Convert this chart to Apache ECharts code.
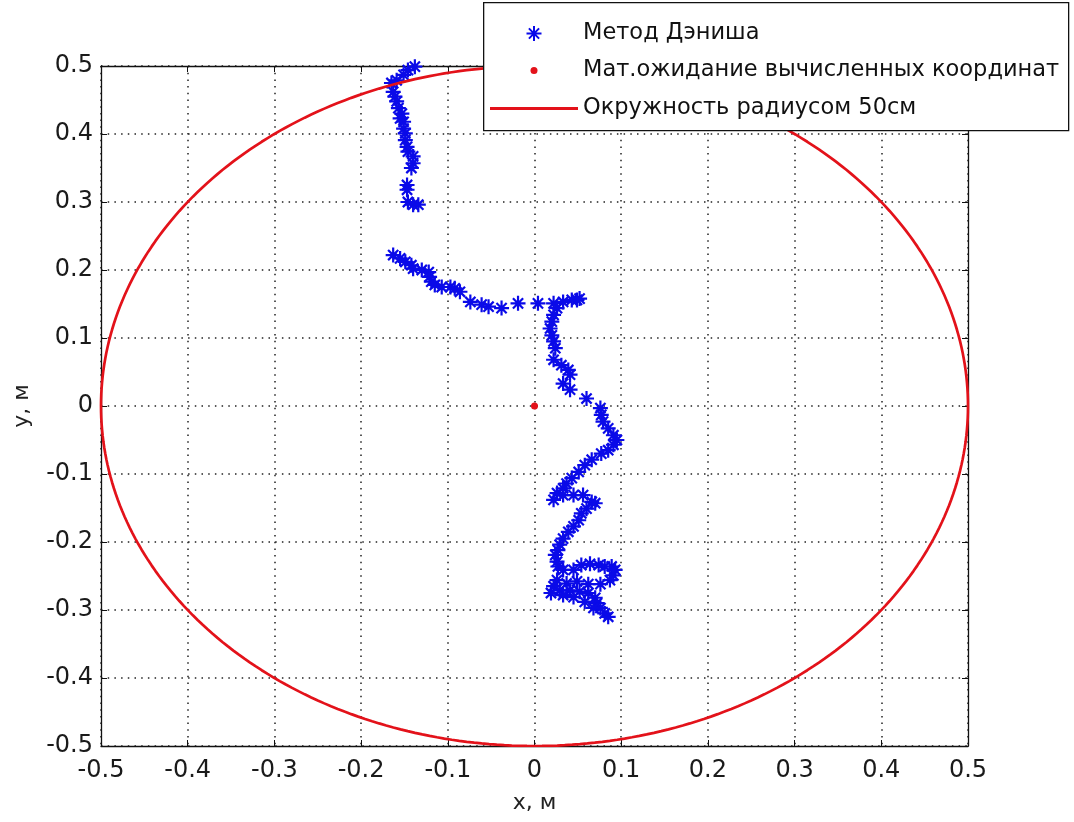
<!DOCTYPE html>
<html>
<head>
<meta charset="utf-8">
<script src="https://cdn.jsdelivr.net/npm/echarts@6/dist/echarts.min.js"></script>
<style>
  html, body { margin: 0; padding: 0; background: #fff; }
  #chart { width: 1074px; height: 822px; }
</style>
</head>
<body>
<div id="chart"></div>
<script>
// Positions estimated by Dennis's method (metres)
const dennisX = [
  -0.128, -0.138, -0.146, -0.151, -0.159, -0.165, -0.163, -0.161, -0.159, -0.157,
  -0.153, -0.155, -0.151, -0.151, -0.149, -0.149, -0.147, -0.146, -0.140, -0.140,
  -0.142, -0.147, -0.147, -0.146, -0.140, -0.134,
  -0.163, -0.155, -0.149, -0.142, -0.140, -0.130, -0.122, -0.121, -0.119, -0.115,
  -0.107, -0.097, -0.092, -0.086, -0.074, -0.061, -0.053, -0.038, -0.019, 0.004,
  0.022, 0.033, 0.043, 0.049, 0.052,
  0.026, 0.022, 0.020, 0.018, 0.020, 0.022, 0.024, 0.022, 0.031, 0.039,
  0.041, 0.033, 0.041, 0.060, 0.076, 0.077, 0.079, 0.085, 0.091, 0.095,
  0.091, 0.085, 0.077, 0.066, 0.058, 0.051, 0.043, 0.037,
  0.033, 0.026, 0.022, 0.033, 0.045, 0.056, 0.066, 0.070, 0.060, 0.054,
  0.051, 0.045, 0.039, 0.033, 0.029, 0.027, 0.024, 0.026, 0.027, 0.033,
  0.045, 0.054, 0.064, 0.074, 0.081, 0.089, 0.093, 0.091, 0.087, 0.076,
  0.062, 0.049, 0.037, 0.026, 0.022, 0.019, 0.029, 0.041, 0.052, 0.062,
  0.070, 0.072, 0.076, 0.081, 0.085, 0.068, 0.058, 0.045, 0.033
];
const dennisY = [
  0.504, 0.499, 0.494, 0.487, 0.479, 0.475, 0.462, 0.455, 0.448, 0.438,
  0.430, 0.423, 0.418, 0.408, 0.401, 0.391, 0.381, 0.374, 0.367, 0.357,
  0.350, 0.325, 0.318, 0.300, 0.296, 0.296,
  0.222, 0.217, 0.212, 0.207, 0.202, 0.200, 0.197, 0.190, 0.183, 0.178,
  0.175, 0.175, 0.173, 0.168, 0.153, 0.149, 0.146, 0.144, 0.151, 0.151,
  0.151, 0.153, 0.156, 0.156, 0.158,
  0.144, 0.134, 0.124, 0.114, 0.104, 0.095, 0.085, 0.068, 0.060, 0.053,
  0.046, 0.033, 0.024, 0.011, -0.003, -0.013, -0.023, -0.033, -0.043, -0.050,
  -0.057, -0.065, -0.070, -0.079, -0.087, -0.097, -0.106, -0.114,
  -0.121, -0.128, -0.138, -0.131, -0.131, -0.131, -0.141, -0.143, -0.151, -0.158,
  -0.168, -0.177, -0.185, -0.195, -0.204, -0.212, -0.219, -0.229, -0.236, -0.241,
  -0.241, -0.234, -0.232, -0.234, -0.236, -0.236, -0.241, -0.249, -0.256, -0.262,
  -0.262, -0.258, -0.261, -0.256, -0.265, -0.275, -0.271, -0.271, -0.273, -0.275,
  -0.282, -0.290, -0.297, -0.305, -0.310, -0.297, -0.288, -0.281, -0.278
];

// Expected value of the computed coordinates
const meanX = [0];
const meanY = [0];

// Reference circle
const circleCenter = [0, 0];
const circleRadius = 0.5;

const tickValues = [-0.5, -0.4, -0.3, -0.2, -0.1, 0, 0.1, 0.2, 0.3, 0.4, 0.5];
const tickLabels = ['-0.5', '-0.4', '-0.3', '-0.2', '-0.1', '0', '0.1', '0.2', '0.3', '0.4', '0.5'];

const seriesNames = ['Метод Дэниша', 'Мат.ожидание вычисленных координат', 'Окружность радиусом 50см'];
const axisNames = ['x, м', 'y, м'];

const BLUE = '#0a0ae8';
const RED = '#e3121a';
const FONT = 'DejaVu Sans';

function tickFormatter(v) {
  const i = Math.round((v - tickValues[0]) * 10);
  return tickLabels[i] !== undefined ? tickLabels[i] : '';
}

const circlePts = [];
for (let a = 0; a <= 360; a += 1) {
  const t = a * Math.PI / 180;
  circlePts.push([circleCenter[0] + circleRadius * Math.cos(t), circleCenter[1] + circleRadius * Math.sin(t)]);
}

const asterisk = 'path://M0,5L10,5M5,0L5,10M1.6,1.6L8.4,8.4M8.4,1.6L1.6,8.4';

function mainAxis(pos, name, gap, margin) {
  return {
    type: 'value', min: -0.5, max: 0.5, interval: 0.1, position: pos,
    name: name, nameLocation: 'middle', nameGap: gap,
    nameTextStyle: { fontFamily: FONT, fontSize: 22, color: '#222' },
    axisLine: { show: true, onZero: false, lineStyle: { color: '#111', width: 1.3 } },
    axisTick: { show: true, inside: true, length: 6, lineStyle: { color: '#111' } },
    axisLabel: { show: true, formatter: tickFormatter, fontFamily: FONT, fontSize: 24, color: '#1a1a1a', margin: margin },
    splitLine: { show: true, lineStyle: { color: '#222', width: 1.5, type: [1.5, 5.2] } }
  };
}
function boxAxis(pos) {
  return {
    type: 'value', min: -0.5, max: 0.5, interval: 0.1, position: pos,
    axisLine: { show: true, onZero: false, lineStyle: { color: '#111', width: 1.3 } },
    axisTick: { show: true, inside: true, length: 6, lineStyle: { color: '#111' } },
    axisLabel: { show: false },
    splitLine: { show: false }
  };
}

// Each legend row sits in its own component; the item box is laid out from the
// icon's drawn bounds, so narrow icons get their left edge moved to stay centred
// in an 88px slot.
const LEGEND_SLOT = 88;
const legendText = { fontFamily: FONT, fontSize: 22.5, color: '#111' };
function legendRow(item, top, h, iconSpan) {
  return {
    data: [item], left: 490 + (LEGEND_SLOT - iconSpan) / 2, top: top,
    orient: 'horizontal', align: 'left', padding: 0,
    itemWidth: LEGEND_SLOT, itemHeight: h, symbolKeepAspect: true,
    textStyle: legendText, selectedMode: false, z: 20
  };
}

const chart = echarts.init(document.getElementById('chart'), null, { renderer: 'canvas' });
chart.setOption({
  animation: false,
  backgroundColor: '#fff',
  grid: { left: 101, right: 106, top: 66, bottom: 76, containLabel: false },
  xAxis: [mainAxis('bottom', axisNames[0], 46, 13), boxAxis('top')],
  yAxis: [mainAxis('left', axisNames[1], 68, 8), boxAxis('right')],
  legend: [
    legendRow({ name: seriesNames[0], icon: asterisk,
      itemStyle: { color: BLUE, borderColor: BLUE, borderWidth: 2 } }, 22, 15, 17),
    legendRow({ name: seriesNames[1], icon: 'circle',
      itemStyle: { color: RED, borderWidth: 0, opacity: 1 } }, 59, 7, 7),
    legendRow({ name: seriesNames[2], icon: 'rect',
      itemStyle: { color: RED, borderWidth: 0 } }, 97, 3, LEGEND_SLOT)
  ],
  graphic: [{
    type: 'rect', left: 483, top: 2, z: 10,
    shape: { width: 585, height: 128 },
    style: { fill: '#fff', stroke: '#111', lineWidth: 1.3 }
  }],
  series: [
    {
      name: seriesNames[0], type: 'scatter',
      data: dennisX.map((x, i) => [x, dennisY[i]]),
      symbol: asterisk, symbolSize: 15, symbolKeepAspect: true,
      itemStyle: { color: BLUE, borderColor: BLUE, borderWidth: 2.2, opacity: 1 },
      emphasis: { disabled: true }, z: 3
    },
    {
      name: seriesNames[1], type: 'scatter',
      data: meanX.map((x, i) => [x, meanY[i]]),
      symbol: 'circle', symbolSize: 7,
      itemStyle: { color: RED, opacity: 1 },
      emphasis: { disabled: true }, z: 3
    },
    {
      name: seriesNames[2], type: 'line',
      data: circlePts, showSymbol: false, symbol: 'none', smooth: false,
      lineStyle: { color: RED, width: 2.7 },
      itemStyle: { color: RED },
      emphasis: { disabled: true }, z: 4
    }
  ]
});
</script>
</body>
</html>
